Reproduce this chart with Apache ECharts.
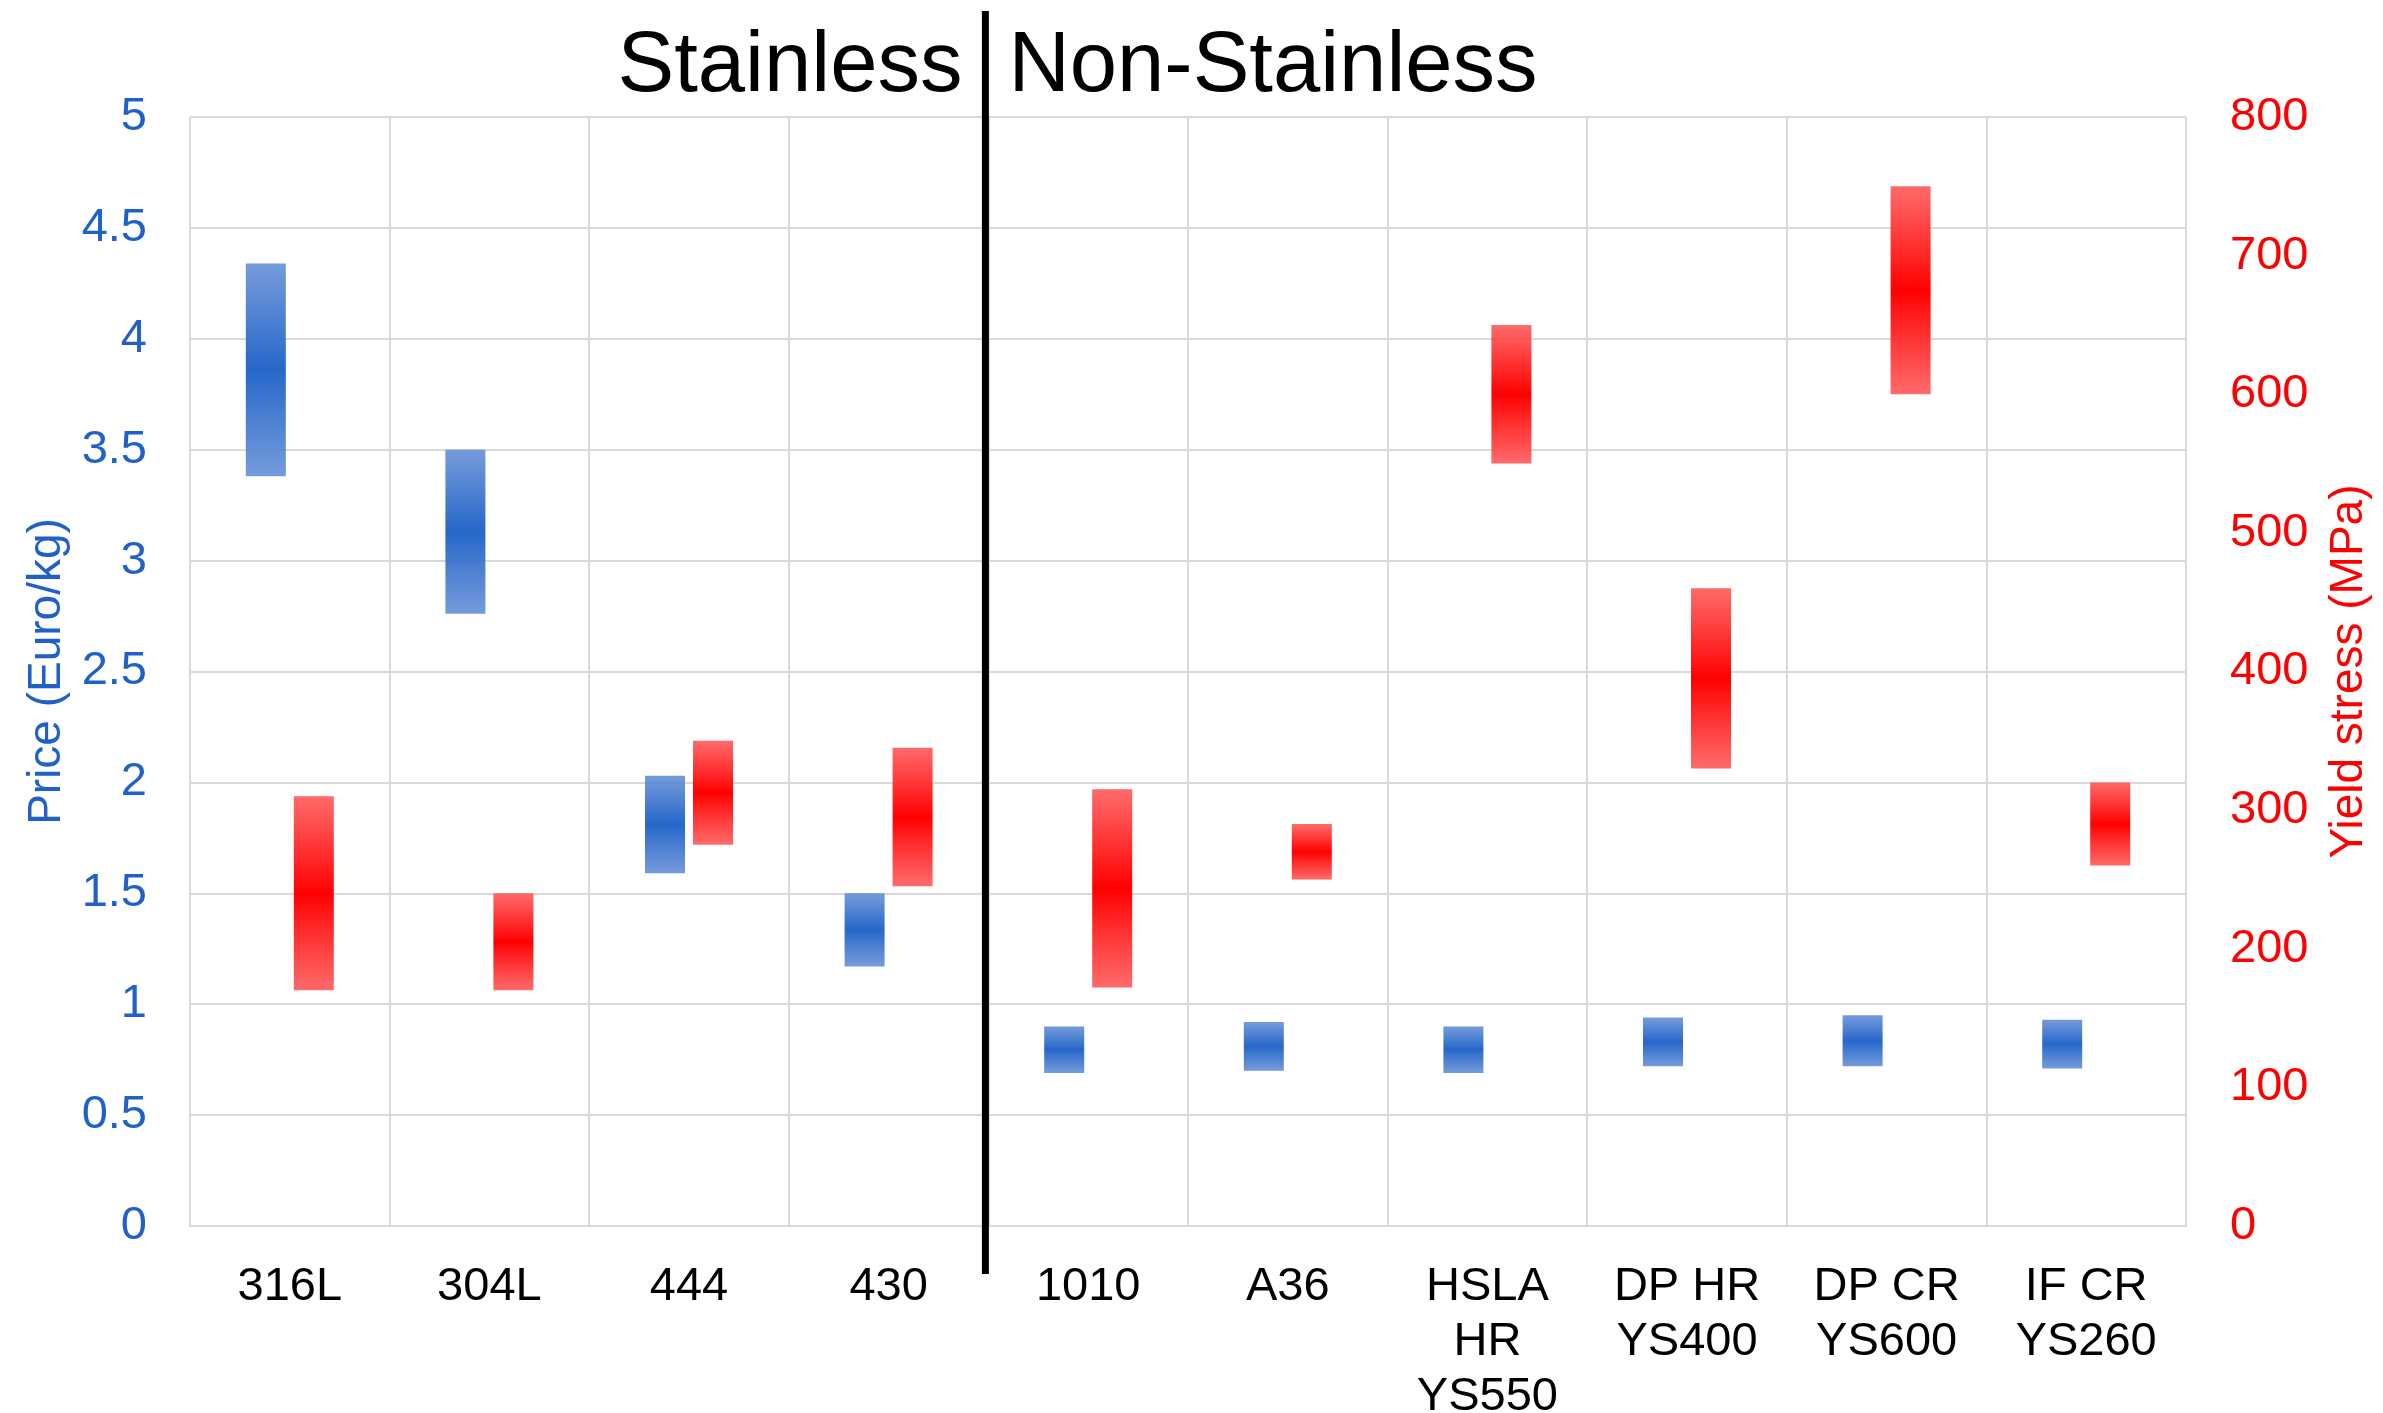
<!DOCTYPE html>
<html>
<head>
<meta charset="utf-8">
<script src="https://cdn.jsdelivr.net/npm/echarts@6/dist/echarts.min.js"></script>
<style>
  html, body { margin: 0; padding: 0; background: #ffffff; }
  #chart { width: 2383px; height: 1413px; }
</style>
</head>
<body>
<div id="chart"></div>
<script>
// Steel grades, split into stainless (first four) and non-stainless
const categories = ['316L', '304L', '444', '430', '1010', 'A36',
  'HSLA\nHR\nYS550', 'DP HR\nYS400', 'DP CR\nYS600', 'IF CR\nYS260'];

// Price range (Euro/kg)
const priceLow  = [3.38, 2.76, 1.59, 1.17, 0.69, 0.70, 0.69, 0.72, 0.72, 0.71];
const priceHigh = [4.34, 3.50, 2.03, 1.50, 0.90, 0.92, 0.90, 0.94, 0.95, 0.93];

// Yield stress range (MPa)
const yieldLow  = [170, 170, 275, 245, 172, 250, 550, 330, 600, 260];
const yieldHigh = [310, 240, 350, 345, 315, 290, 650, 460, 750, 320];

// Axis ticks
const priceTicks = { min: 0, max: 5, interval: 0.5 };
const yieldTicks = { min: 0, max: 800, interval: 100 };

const FONT = "'Liberation Sans', Arial, sans-serif";
const BLUE = '#1F61C9';
const RED = '#FF0000';
const GRID = '#D9D9D9';

const span = (lo, hi) => hi.map((h, i) => +(h - lo[i]).toFixed(3));

function vGradient(edge, mid) {
  return new echarts.graphic.LinearGradient(0, 0, 0, 1, [
    { offset: 0, color: edge },
    { offset: 0.5, color: mid },
    { offset: 1, color: edge }
  ]);
}

const chart = echarts.init(document.getElementById('chart'), null, { renderer: 'canvas' });

const option = {
  backgroundColor: '#ffffff',
  animation: false,
  textStyle: { fontFamily: FONT },
  grid: { left: 190, right: 197, top: 117, bottom: 187, containLabel: false, outerBoundsMode: 'none' },
  xAxis: {
    type: 'category',
    data: categories,
    boundaryGap: true,
    axisTick: { show: false },
    axisLine: { show: true, lineStyle: { color: GRID, width: 2 } },
    splitLine: { show: true, lineStyle: { color: GRID, width: 2 } },
    axisLabel: {
      interval: 0, margin: 34, color: '#000000',
      fontSize: 47, lineHeight: 55, fontFamily: FONT
    }
  },
  yAxis: [
    {
      type: 'value',
      min: priceTicks.min, max: priceTicks.max, interval: priceTicks.interval,
      position: 'left',
      name: 'Price (Euro/kg)',
      nameLocation: 'middle',
      nameRotate: 90,
      nameGap: 120,
      nameTextStyle: { color: BLUE, fontSize: 46, fontFamily: FONT },
      axisLine: { show: false },
      axisTick: { show: false },
      splitLine: { show: true, lineStyle: { color: GRID, width: 2 } },
      axisLabel: { color: BLUE, fontSize: 47, margin: 43, fontFamily: FONT }
    },
    {
      type: 'value',
      min: yieldTicks.min, max: yieldTicks.max, interval: yieldTicks.interval,
      position: 'right',
      name: 'Yield stress (MPa)',
      nameLocation: 'middle',
      nameRotate: 90,
      nameGap: 140,
      nameTextStyle: { color: RED, fontSize: 46, fontFamily: FONT },
      axisLine: { show: false },
      axisTick: { show: false },
      splitLine: { show: false },
      axisLabel: { color: RED, fontSize: 47, margin: 44, fontFamily: FONT }
    }
  ],
  series: [
    {
      name: 'priceBase', type: 'bar', stack: 'price', yAxisIndex: 0,
      barWidth: 40, barGap: '20%', silent: true,
      itemStyle: { color: 'rgba(0,0,0,0)' },
      data: priceLow
    },
    {
      name: 'Price', type: 'bar', stack: 'price', yAxisIndex: 0,
      barWidth: 40, barGap: '20%',
      itemStyle: { color: vGradient('rgba(98,141,214,0.88)', 'rgba(31,98,200,0.97)') },
      data: span(priceLow, priceHigh)
    },
    {
      name: 'yieldBase', type: 'bar', stack: 'ys', yAxisIndex: 1,
      barWidth: 40, barGap: '20%', silent: true,
      itemStyle: { color: 'rgba(0,0,0,0)' },
      data: yieldLow
    },
    {
      name: 'Yield stress', type: 'bar', stack: 'ys', yAxisIndex: 1,
      barWidth: 40, barGap: '20%',
      itemStyle: { color: vGradient('rgba(255,90,90,0.9)', 'rgba(255,0,0,1)') },
      data: span(yieldLow, yieldHigh)
    }
  ]
};

chart.setOption(option);

// Divider between the stainless and non-stainless groups, with group headings
const xA = chart.convertToPixel({ xAxisIndex: 0 }, categories[3]);
const xB = chart.convertToPixel({ xAxisIndex: 0 }, categories[4]);
const xDiv = (xA + xB) / 2 - 3;

chart.setOption({
  graphic: [
    {
      type: 'line',
      shape: { x1: xDiv, y1: 11, x2: xDiv, y2: 1274 },
      style: { stroke: '#000000', lineWidth: 7 },
      z: 100
    },
    {
      type: 'text',
      x: xDiv - 23, y: 68,
      style: {
        text: 'Stainless', fill: '#000000',
        font: "85px 'Liberation Sans', Arial, sans-serif",
        textAlign: 'right', textVerticalAlign: 'middle'
      },
      z: 100
    },
    {
      type: 'text',
      x: xDiv + 23, y: 68,
      style: {
        text: 'Non-Stainless', fill: '#000000',
        font: "85px 'Liberation Sans', Arial, sans-serif",
        textAlign: 'left', textVerticalAlign: 'middle'
      },
      z: 100
    }
  ]
});
</script>
</body>
</html>
